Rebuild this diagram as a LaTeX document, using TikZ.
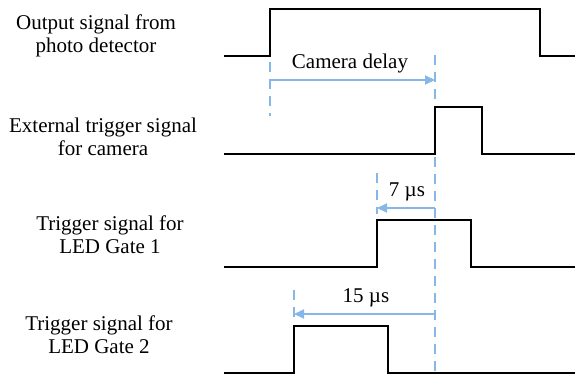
\documentclass[tikz,border=0pt]{standalone}
\usepackage{fontspec}
\setmainfont{Liberation Serif}
\usetikzlibrary{arrows.meta}
\definecolor{lblue}{RGB}{135,182,232}
\begin{document}
\begin{tikzpicture}[x=1pt,y=-1pt,
  sig/.style={line width=2.4pt,line join=miter},
  guide/.style={lblue,line width=2pt,dash pattern=on 10pt off 7pt},
  delay/.style={lblue,line width=2pt,-{Triangle[length=10pt,width=9pt]}},
  lbl/.style={align=center,font=\fontsize{21}{23}\selectfont,inner sep=0pt},
  val/.style={font=\fontsize{21}{23}\selectfont,inner sep=0pt}]
\useasboundingbox (0,0) rectangle (575,375);
% guide coordinates
\coordinate (g1t) at (270,62);
\coordinate (g1b) at (270,116);
\coordinate (a1s) at (270,80);
\coordinate (a1e) at (435,80);
\coordinate (gmt) at (435,55);
\coordinate (gmb) at (435,375);
\coordinate (g3t) at (377,173);
\coordinate (g3b) at (377,214);
\coordinate (a3s) at (435,208);
\coordinate (a3e) at (377,208);
\coordinate (g4t) at (294,290);
\coordinate (g4b) at (294,322);
\coordinate (a4s) at (435,314);
\coordinate (a4e) at (294,314);
% guides
\draw[guide] (g1t) -- (g1b);
\draw[guide] (gmt) -- (gmb);
\draw[guide] (g3t) -- (g3b);
\draw[guide] (g4t) -- (g4b);
\draw[delay] (a1s) -- (a1e);
\draw[delay] (a3s) -- (a3e);
\draw[delay] (a4s) -- (a4e);
% signals
\draw[sig] (224,56) -- (270,56) -- (270,9) -- (540,9) -- (540,56) -- (575,56);
\draw[sig] (224,154) -- (435,154) -- (435,107) -- (482,107) -- (482,154) -- (575,154);
\draw[sig] (224,267) -- (377,267) -- (377,220) -- (471,220) -- (471,267) -- (575,267);
\draw[sig] (224,373) -- (294,373) -- (294,326) -- (388,326) -- (388,373) -- (575,373);
% labels
\node[lbl] (l1) at (96,36) {Output signal from\\photo detector};
\node[lbl] (l2) at (103,137) {External trigger signal\\for camera};
\node[lbl] (l3) at (110,235) {Trigger signal for\\LED Gate 1};
\node[lbl] (l4) at (99,335) {Trigger signal for\\LED Gate 2};
% values
\node[val] (v1) at (350,63) {Camera delay};
\node[val] (v3) at (407,192) {7 µs};
\node[val] (v4) at (366,298) {15 µs};
\end{tikzpicture}
\end{document}
